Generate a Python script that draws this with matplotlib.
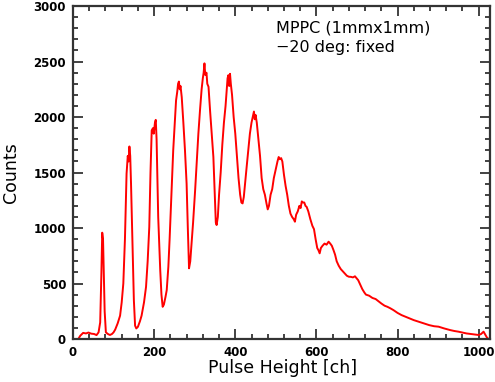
import numpy as np
import matplotlib
matplotlib.use('Agg')
import matplotlib.pyplot as plt
from matplotlib.ticker import MultipleLocator

# pulse height spectrum (channel, counts)
channel = [13, 18, 25, 32, 38, 45, 52, 58, 63, 67, 70, 72, 74, 76, 78, 81, 86, 91, 96, 100,
           104, 110, 116, 120, 124, 128, 132, 135, 137, 139, 141, 143, 147, 150, 153, 156, 160,
           165, 169, 175, 180, 184, 188, 191, 194, 197, 199, 202, 204, 206, 210, 213, 215, 218,
           221, 224, 228, 231, 235, 238, 242, 247, 251, 254, 257, 259, 261, 263, 265, 268, 272,
           276, 280, 283, 286, 289, 292, 296, 301, 305, 309, 313, 317, 320, 322, 324, 326, 329,
           331, 334, 338, 342, 346, 349, 352, 354, 357, 360, 364, 368, 372, 376, 379, 381, 383,
           385, 387, 389, 392, 396, 400, 404, 408, 412, 415, 418, 421, 424, 428, 432, 436, 440,
           443, 446, 448, 450, 453, 457, 461, 465, 469, 473, 477, 480, 483, 487, 491, 495, 498,
           501, 504, 507, 510, 513, 516, 520, 524, 528, 532, 536, 540, 544, 547, 550, 554, 558,
           561, 564, 567, 570, 573, 576, 580, 585, 590, 594, 598, 602, 605, 608, 611, 615, 620,
           625, 630, 634, 638, 642, 646, 650, 655, 660, 665, 670, 675, 680, 685, 690, 695, 699,
           703, 708, 713, 718, 722, 730, 738, 746, 753, 760, 768, 775, 782, 790, 800, 810, 820,
           830, 840, 852, 865, 878, 890, 901, 915, 930, 940, 950, 960, 970, 980, 990, 1000, 1006,
           1012, 1016, 1020, 1024]
counts = [0, 30, 55, 50, 58, 48, 45, 35, 60, 150, 600, 958, 900, 592, 250, 60, 45, 36, 45, 60,
          85, 140, 210, 330, 500, 900, 1490, 1650, 1600, 1735, 1650, 1400, 800, 350, 120, 95, 110,
          160, 210, 330, 470, 700, 1010, 1500, 1880, 1900, 1850, 1950, 1975, 1800, 1100, 800, 620, 400,
          290, 310, 380, 440, 650, 890, 1250, 1700, 1950, 2150, 2230, 2300, 2320, 2250, 2280, 2180, 1950,
          1700, 1400, 1000, 637, 700, 850, 1050, 1340, 1600, 1850, 2060, 2250, 2350, 2400, 2484, 2380, 2400,
          2300, 2273, 2050, 1850, 1640, 1350, 1050, 1027, 1100, 1300, 1500, 1750, 1950, 2100, 2250, 2350, 2378,
          2280, 2390, 2300, 2200, 2000, 1850, 1650, 1450, 1300, 1230, 1222, 1280, 1400, 1550, 1700, 1850, 1950,
          2000, 2050, 1980, 2020, 1950, 1800, 1650, 1450, 1350, 1300, 1220, 1168, 1200, 1300, 1350, 1450, 1500,
          1550, 1600, 1640, 1620, 1630, 1600, 1480, 1380, 1300, 1200, 1130, 1100, 1080, 1057, 1120, 1150, 1200,
          1180, 1240, 1230, 1230, 1200, 1190, 1150, 1080, 1020, 990, 900, 820, 800, 772, 820, 840, 860,
          850, 877, 860, 840, 802, 760, 700, 660, 630, 610, 590, 570, 561, 560, 555, 565, 547,
          530, 490, 450, 420, 400, 390, 370, 360, 340, 320, 300, 290, 277, 260, 235, 215, 200,
          185, 170, 156, 140, 125, 115, 111, 95, 80, 72, 66, 58, 50, 45, 40, 36, 45,
          66, 40, 15, 0]

fig = plt.figure(figsize=(4.95, 3.82), dpi=100)
ax = fig.add_axes([0.1475, 0.1126, 0.8425, 0.8714])

ax.plot(channel, counts, color='red', lw=1.4)

ax.set_xlim(0, 1028)
ax.set_ylim(0, 3000)
ax.xaxis.set_major_locator(MultipleLocator(200))
ax.xaxis.set_minor_locator(MultipleLocator(40))
ax.yaxis.set_major_locator(MultipleLocator(500))
ax.yaxis.set_minor_locator(MultipleLocator(100))
ax.tick_params(which='both', direction='in', top=True, right=True, width=1.2, color='#222222')
ax.tick_params(which='major', length=7, labelsize=8.5, pad=5)
ax.tick_params(which='minor', length=3.5)
for lab in ax.get_xticklabels() + ax.get_yticklabels():
    lab.set_fontweight('bold')
for sp in ax.spines.values():
    sp.set_linewidth(1.6)
    sp.set_color('#333333')

# axis titles placed in figure pixels like the reference
fig.text(283 / 495, 1 - 368 / 382, 'Pulse Height [ch]', fontsize=12.5,
         ha='center', va='center')
fig.text(11 / 495, 1 - 173 / 382, 'Counts', fontsize=12.5, rotation=90,
         ha='center', va='center')

ax.text(0.487, 0.935, 'MPPC (1mmx1mm)', transform=ax.transAxes, fontsize=11.5, va='center')
ax.text(0.487, 0.875, '\u221220 deg: fixed', transform=ax.transAxes, fontsize=11.5, va='center')

fig.savefig('out.png', dpi=100)
